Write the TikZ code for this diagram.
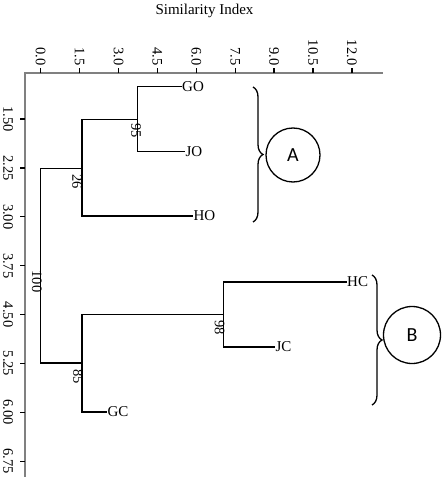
\documentclass[tikz,border=0pt]{standalone}
\usepackage{fontspec}
\setmainfont{Liberation Serif}
\newfontfamily\letterfont{Carlito}
\usetikzlibrary{decorations.pathreplacing}
\begin{document}
\begin{tikzpicture}[x=1pt,y=-1pt,
  axisline/.style={draw=black!50,line width=2pt},
  tickmark/.style={draw=black,line width=1.3pt},
  ticklabel/.style={font=\fontsize{14.5}{15}\selectfont,rotate=-90,inner sep=0.5pt},
  branch/.style={draw=black,line width=1.3pt},
  leaf/.style={font=\fontsize{15}{16}\selectfont,anchor=west,inner sep=0.3pt},
  support/.style={font=\fontsize{14.5}{15}\selectfont,rotate=-90,inner sep=0pt},
  bracebar/.style={draw=black,line width=1.3pt,decorate,decoration={brace,amplitude=10pt}},
  groupcircle/.style={draw=black,line width=1.3pt,circle,minimum size=54pt,inner sep=0pt,font=\letterfont\fontsize{20}{22}\selectfont}
]
\useasboundingbox (0,0) rectangle (447,481);

% title
\node[font=\fontsize{15}{16}\selectfont,anchor=base] (title) at (204.5,14.5) {Similarity Index};

% axes
\coordinate (axO) at (24.5,73.3);
\coordinate (axR) at (382.5,73.3);
\coordinate (axB) at (24.5,477);
\draw[axisline] (axR) -- (axO) -- (axB);

% top ticks
\foreach \v [count=\i from 0] in {0.0,1.5,3.0,4.5,6.0,7.5,9.0,10.5,12.0}{
  \coordinate (tt\i) at ({40.7+\i*38.9},73.3);
  \draw[tickmark] (tt\i) -- ++(0,-5.5);
  \node[ticklabel,anchor=east] (tl\i) at ({40.7+\i*38.9},66) {\v};
}
% left ticks
\foreach \v [count=\i from 0] in {1.50,2.25,3.00,3.75,4.50,5.25,6.00,6.75}{
  \coordinate (lt\i) at (24.5,{119+\i*48.9});
  \draw[tickmark] (lt\i) -- ++(-5,0);
  \node[ticklabel] (ll\i) at (8,{119+\i*48.9}) {\v};
}

% leaves
\node[leaf] (GO) at (181.7,86.7) {GO};
\node[leaf] (JO) at (185,151.7) {JO};
\node[leaf] (HO) at (193,216) {HO};
\node[leaf] (HC) at (346.7,282) {HC};
\node[leaf] (JC) at (275,347) {JC};
\node[leaf] (GC) at (107,412) {GC};

% junctions
\coordinate (j95) at (137.7,119.2);
\coordinate (j26) at (82,168.3);
\coordinate (jroot) at (40.3,265.6);
\coordinate (j85) at (82,363.1);
\coordinate (j98) at (223.3,314.5);

\draw[branch] (GO.west) -| (j95) |- (JO.west);
\draw[branch] (j95) -| (j26) |- (HO.west);
\draw[branch] (j26) -| (jroot) |- (j85);
\draw[branch] (HC.west) -| (j98) |- (JC.west);
\draw[branch] (j98) -| (j85) |- (GC.west);

% support values
\node[support] (s95) at (136,131) {95};
\node[support] (s26) at (77,181.5) {26};
\node[support] (s100) at (37,281.5) {100};
\node[support] (s85) at (78,376.5) {85};
\node[support] (s98) at (219.5,327.5) {98};

% groups
\coordinate (bAt) at (253,87);
\coordinate (bAb) at (253,222);
\draw[bracebar] (bAt) -- (bAb);
\node[groupcircle] (A) at (293,155) {A};

\coordinate (bBt) at (372,275);
\coordinate (bBb) at (372,405);
\draw[bracebar] (bBt) -- (bBb);
\node[groupcircle,minimum size=57pt] (B) at (412,335) {B};
\end{tikzpicture}
\end{document}
